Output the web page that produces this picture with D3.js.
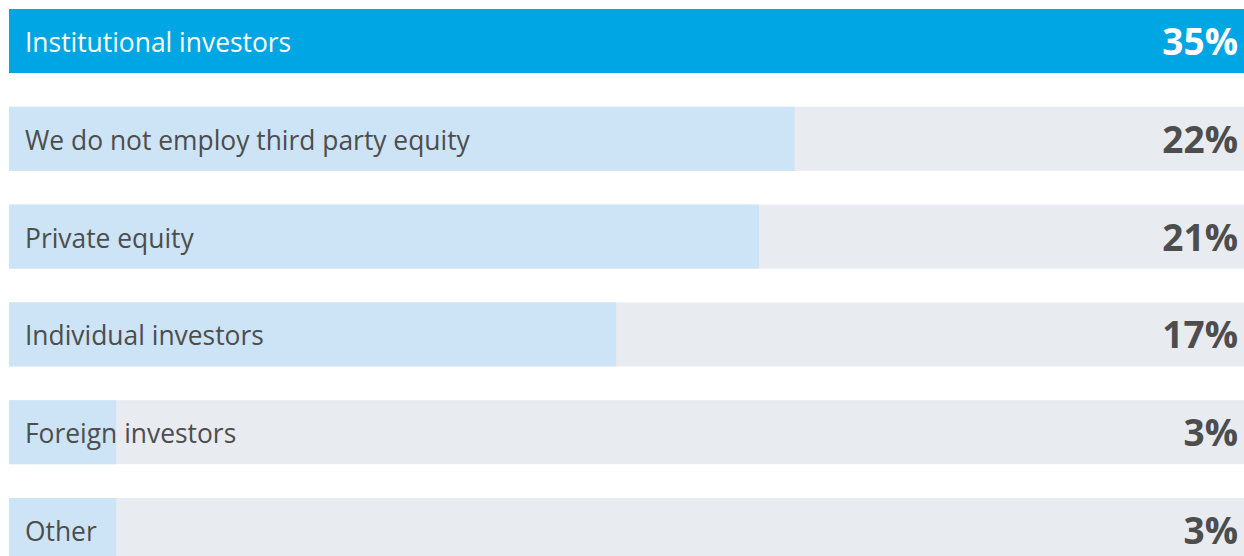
<!DOCTYPE html>
<html>
<head>
<meta charset="utf-8">
<script src="https://cdn.jsdelivr.net/npm/d3@7"></script>
<style>
  body { margin: 0; background: #fff; }
  svg { display: block; }
</style>
</head>
<body>
<div class="canva"></div>
<script>
categories = ["Institutional investors", "We do not employ third party equity", "Private equity",
              "Individual investors", "Foreign investors", "Other"]
values = [35, 22, 21, 17, 3, 3]
value_labels = ["35%", "22%", "21%", "17%", "3%", "3%"]

width = 1244
height = 556
left = 9
top_y = 9
bar_h = 64
step = 97.8

function render() {
    const svg = d3.select('.canva').append('svg')
        .attr('width', width)
        .attr('height', height)

    const x = d3.scaleLinear().domain([0, 35]).range([0, 1250])
    const y = d3.scaleBand().domain(categories)
        .range([top_y, top_y + step * (categories.length - 1) + bar_h])
        .paddingInner((step - bar_h) / step)
        .paddingOuter(0)
    const bg_w = width - left

    const rows = svg.selectAll('g.row')
        .data(categories)
        .enter().append('g')
        .attr('class', 'row')
        .attr('transform', d => `translate(${left},${y(d)})`)

    // background track
    rows.append('rect')
        .attr('width', bg_w)
        .attr('height', y.bandwidth())
        .attr('fill', '#e8ecf0')

    rows.append('rect')
        .attr('width', (d, i) => Math.min(x(values[i]), bg_w))
        .attr('height', y.bandwidth())
        .attr('fill', (d, i) => i == 0 ? '#00a6e3' : '#cce4f6')

    rows.append('text')
        .attr('x', 16)
        .attr('y', 43)
        .attr('font-family', 'Open Sans')
        .attr('font-size', 26.4)
        .attr('fill', (d, i) => i == 0 ? '#fff' : '#4d4d4d')
        .text(d => d)

    rows.append('text')
        .attr('x', bg_w - 6)
        .attr('y', 46)
        .attr('text-anchor', 'end')
        .attr('font-family', 'Open Sans')
        .attr('font-weight', 'bold')
        .attr('font-size', 37)
        .attr('fill', (d, i) => i == 0 ? '#fff' : '#4d4d4d')
        .text((d, i) => value_labels[i])
}
render()
</script>
</body>
</html>
